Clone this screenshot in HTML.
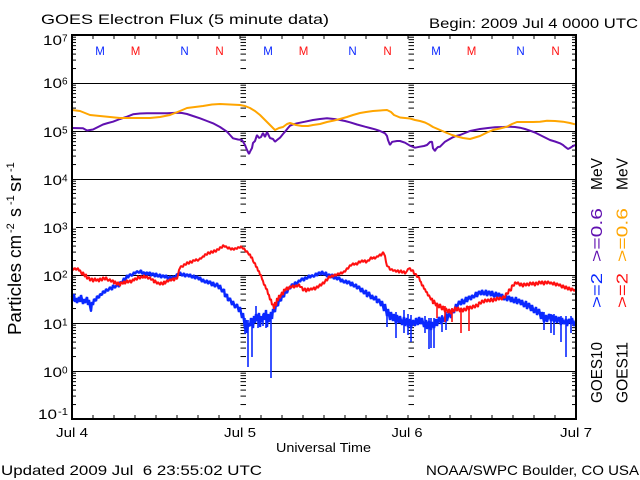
<!DOCTYPE html>
<html><head><meta charset="utf-8"><style>
html,body{margin:0;padding:0;background:#fff;}
svg{display:block;}
text{font-family:"Liberation Sans",sans-serif;fill:#000;}
</style></head><body>
<svg width="640" height="480" viewBox="0 0 640 480" xmlns="http://www.w3.org/2000/svg">
<rect width="640" height="480" fill="#fff"/>
<defs>
<g id="t4" stroke="#000" stroke-width="1">
<line x1="0" x2="4" y1="-14.45" y2="-14.45"/><line x1="0" x2="4" y1="-22.9" y2="-22.9"/><line x1="0" x2="4" y1="-28.9" y2="-28.9"/><line x1="0" x2="4" y1="-33.55" y2="-33.55"/><line x1="0" x2="4" y1="-37.35" y2="-37.35"/><line x1="0" x2="4" y1="-40.56" y2="-40.56"/><line x1="0" x2="4" y1="-43.35" y2="-43.35"/><line x1="0" x2="4" y1="-45.8" y2="-45.8"/>
</g>
<g id="t6" stroke="#000" stroke-width="1">
<line x1="0" x2="5.5" y1="-14.45" y2="-14.45"/><line x1="0" x2="5.5" y1="-22.9" y2="-22.9"/><line x1="0" x2="5.5" y1="-28.9" y2="-28.9"/><line x1="0" x2="5.5" y1="-33.55" y2="-33.55"/><line x1="0" x2="5.5" y1="-37.35" y2="-37.35"/><line x1="0" x2="5.5" y1="-40.56" y2="-40.56"/><line x1="0" x2="5.5" y1="-43.35" y2="-43.35"/><line x1="0" x2="5.5" y1="-45.8" y2="-45.8"/>
</g>
</defs>

<!-- gridlines -->
<g stroke="#000" stroke-width="1">
<line x1="72" x2="576" y1="83.5" y2="83.5"/>
<line x1="72" x2="576" y1="131.5" y2="131.5"/>
<line x1="72" x2="576" y1="179.5" y2="179.5"/>
<line x1="76" x2="576" y1="227.5" y2="227.5" stroke-dasharray="7 5"/>
<line x1="72" x2="576" y1="275.5" y2="275.5"/>
<line x1="72" x2="576" y1="323.5" y2="323.5"/>
<line x1="72" x2="576" y1="371.5" y2="371.5"/>
</g>

<!-- log ticks -->
<g>
<use href="#t4" x="72" y="83"/><use href="#t4" x="72" y="131"/><use href="#t4" x="72" y="179"/><use href="#t4" x="72" y="227"/><use href="#t4" x="72" y="275"/><use href="#t4" x="72" y="323"/><use href="#t4" x="72" y="371"/><use href="#t4" x="72" y="419"/>
<use href="#t4" x="572" y="83"/><use href="#t4" x="572" y="131"/><use href="#t4" x="572" y="179"/><use href="#t4" x="572" y="227"/><use href="#t4" x="572" y="275"/><use href="#t4" x="572" y="323"/><use href="#t4" x="572" y="371"/><use href="#t4" x="572" y="419"/>
<use href="#t6" x="240.5" y="83"/><use href="#t6" x="240.5" y="131"/><use href="#t6" x="240.5" y="179"/><use href="#t6" x="240.5" y="227"/><use href="#t6" x="240.5" y="275"/><use href="#t6" x="240.5" y="323"/><use href="#t6" x="240.5" y="371"/><use href="#t6" x="240.5" y="419"/>
<use href="#t6" x="408.5" y="83"/><use href="#t6" x="408.5" y="131"/><use href="#t6" x="408.5" y="179"/><use href="#t6" x="408.5" y="227"/><use href="#t6" x="408.5" y="275"/><use href="#t6" x="408.5" y="323"/><use href="#t6" x="408.5" y="371"/><use href="#t6" x="408.5" y="419"/>
</g>

<!-- time ticks -->
<line x1="92.5" x2="556" y1="37" y2="37" stroke="#000" stroke-width="4" stroke-dasharray="1 20"/>
<line x1="92.5" x2="556" y1="417" y2="417" stroke="#000" stroke-width="4" stroke-dasharray="1 20"/>

<!-- GOES10 >=0.6 purple -->
<polyline fill="none" stroke="#6010b0" stroke-width="2" stroke-linejoin="bevel" points="72,128 83,128.3 87,130.5 93,129.5 98,127 103,124.5 108,123 113,121.7 120,119 127,116.7 133,114.3 140,113.5 147,113.3 167,113.3 172,113 177,112.7 182,113 187,114 193,116 200,118.3 207,121 213,123.3 220,127 227,131.7 230,135 233,138.3 238,139.5 242,140 245,145 247,150 249,154 250,151.7 252,148 253,143 255,141 257,135 259,138 261,137 263,133 265,137 267,132 270,138 273,139 275,141.7 277,140 280,137.7 283,134 285,131.7 288,128 290,125.7 293,124.5 297,123.3 305,121.7 313,120 320,119 327,118.3 334,119 340,120 345,121 350,122.3 357,124.5 365,126.7 370,128 375,129.3 380,131 385,133.3 387,136 388,140 390,145 392,142 393,141.7 397,141 400,141 405,142.7 410,145.7 415,147.7 420,146.7 424,146 427,145 430,142 432,141.7 433,148.3 435,151 436,149 438,147 440,146.7 445,141.7 448,140 452,137.7 456,136 460,135 465,133 470,131 475,130 480,129 488,128 495,127.3 503,127 510,126.7 515,127 520,127.7 525,129 530,130.7 535,132.5 540,135 545,137.5 550,140 555,141.5 560,143.3 563,145 565,146.7 568,149 570,148 572,146.7 574,145.5 576,145"/>

<!-- GOES11 >=0.6 orange -->
<polyline fill="none" stroke="#ffa500" stroke-width="2" stroke-linejoin="bevel" points="72,110 80,111 90,115 100,116 110,117 120,118 135,118 150,118 160,117 170,115 175,113 180,111 187,108 195,107 203,106 212,104.5 220,104 230,104.5 240,105 245,106 250,108 255,111 260,115 264,119 268,123 272,127 275,130 279,128 283,127 287,124 290,123 296,125 302,126 308,126 313,125 320,124 327,122 334,120.5 340,119 347,117 353,115 360,113 366,112 373,111 380,110.5 387,110 391,112 394,115 400,117.5 405,118 410,118.5 415,120 420,121 425,122.5 429,124.5 433,127 440,130 447,133 452,135 457,136.5 463,138 470,139 475,137.5 480,136 487,132.5 493,130 500,128.5 507,126.7 512,124 517,122 525,122 533,122 540,121.7 547,120.7 555,121 563,121.7 570,123 575,124.3"/>

<!-- GOES10 >=2 blue -->
<polyline fill="none" stroke="#0a28ff" stroke-width="2.4" stroke-linejoin="bevel" points="72,296 73,301 74,294 75,302 76,298 77,303 79,297 80,302 81,295 83,304 84,299 85,303 87,297 88,305 89,300 90,306 91,311 92,302 93,305 94,299 96,301 97,296 99,298 100,294 102,295 103,291 105,293 106,289 108,291 110,287 112,290 113,285 115,288 117,284 119,287 120,282 122,283 124,278 125,281 127,275 128,278 130,274 132,276 134,272 135,274 137,271 139,273 141,270 142,274 144,272 145,275 147,272 148,275 150,272 151,276 153,273 155,277 156,273 158,277 160,274 161,278 163,275 165,278 166,275 168,279 170,276 172,280 173,276 175,278 177,274 179,275 180,272 182,276 184,273 185,277 187,274 189,277 190,274 192,278 194,275 195,279 197,276 199,280 200,277 202,282 203,279 205,283 207,280 208,284 210,281 212,286 213,282 215,287 217,283 219,289 220,285 222,292 224,289 225,297 227,294 228,301 230,298 232,305 233,301 235,308 237,304 239,312 240,307 242,318 243,313 245,329 246,320 247,333 248,324 250,326 251,318 253,328 254,316 255,323 256,314 257,321 259,313 260,327 261,316 262,322 264,313 265,320 266,310 267,327 268,314 269,322 271,312 272,319 273,309 275,312 276,304 278,306 279,299 281,301 282,295 284,297 285,291 287,293 289,287 290,289 292,284 294,286 295,282 297,284 299,280 300,282 302,278 304,281 305,277 307,279 309,275 310,278 312,275 314,277 316,273 317,276 319,272 321,275 322,271 324,275 326,272 327,277 329,274 331,278 332,274 334,279 336,276 337,280 339,277 341,282 342,279 344,283 346,280 347,284 349,281 351,286 352,282 354,287 356,284 357,289 359,286 361,292 362,288 364,294 366,290 367,297 369,292 371,299 372,295 374,300 376,296 377,303 379,299 381,306 382,301 384,311 385,304 387,316 388,309 390,320 391,312 393,321 394,314 396,324 397,315 399,323 400,316 402,325 404,317 405,326 407,318 408,327 410,319 411,328 413,320 415,326 416,318 418,325 419,317 421,324 422,318 424,327 426,320 427,329 429,321 431,330 432,322 434,328 436,319 437,326 439,317 441,324 442,316 444,322 446,314 447,321 449,312 451,318 452,309 454,313 456,304 457,308 459,301 461,305 462,299 464,304 466,297 467,302 469,296 471,300 472,295 474,298 476,292 477,297 479,291 481,295 482,290 484,295 486,290 487,296 489,291 491,296 492,291 494,297 496,292 497,298 499,293 501,299 502,294 504,300 506,295 507,301 509,296 511,302 512,297 514,303 516,297 517,304 519,299 521,305 522,300 524,307 526,301 527,309 529,303 531,311 532,305 534,313 536,307 537,315 539,309 541,319 542,312 544,322 546,315 547,322 549,314 551,321 552,315 554,322 556,316 557,323 559,317 561,325 562,318 564,324 566,319 567,326 569,319 571,324 572,318 574,326 576,320"/>
<g stroke="#0a28ff" stroke-width="1.6">
<line x1="91" x2="91" y1="303" y2="312"/>
<line x1="245" x2="245" y1="318" y2="334"/>
<line x1="248" x2="248" y1="320" y2="367"/>
<line x1="252" x2="252" y1="318" y2="357"/>
<line x1="256" x2="256" y1="306" y2="320"/>
<line x1="258" x2="258" y1="315" y2="328"/>
<line x1="263" x2="263" y1="314" y2="326"/>
<line x1="266" x2="266" y1="312" y2="328"/>
<line x1="271" x2="271" y1="312" y2="378"/>
<line x1="387" x2="387" y1="310" y2="327"/>
<line x1="396" x2="396" y1="312" y2="338"/>
<line x1="404" x2="404" y1="310" y2="333"/>
<line x1="408" x2="408" y1="314" y2="335"/>
<line x1="411" x2="411" y1="315" y2="342"/>
<line x1="425" x2="425" y1="316" y2="333"/>
<line x1="429" x2="429" y1="318" y2="349"/>
<line x1="431" x2="431" y1="318" y2="348"/>
<line x1="434" x2="434" y1="318" y2="348"/>
<line x1="442" x2="442" y1="315" y2="332"/>
<line x1="446" x2="446" y1="312" y2="330"/>
<line x1="544" x2="544" y1="312" y2="330"/>
<line x1="551" x2="551" y1="314" y2="333"/>
<line x1="554" x2="554" y1="314" y2="335"/>
<line x1="561" x2="561" y1="316" y2="342"/>
<line x1="566" x2="566" y1="316" y2="357"/>
<line x1="571" x2="571" y1="316" y2="333"/>
</g>

<!-- GOES11 >=2 red -->
<polyline fill="none" stroke="#ff1010" stroke-width="2" stroke-linejoin="bevel" points="72,267 73,270 75,268 76,270 78,268 79,271 80,270 82,275 83,272 85,277 86,274 87,279 89,277 90,281 92,278 93,282 95,278 96,281 98,279 99,282 100,278 102,281 103,277 105,280 106,277 108,281 110,279 111,282 113,280 114,284 115,281 117,285 118,282 120,286 121,282 123,284 124,281 125,284 127,280 128,283 130,280 131,283 133,279 134,281 135,278 137,280 138,276 140,279 141,276 143,278 144,275 145,278 147,276 148,279 150,277 151,280 153,279 154,283 155,280 157,284 158,282 160,285 161,282 163,285 164,281 165,284 167,280 168,282 170,279 171,281 173,278 174,281 175,278 177,279 178,275 179,270 180,268 181,266 183,267 184,264 186,265 187,262 189,264 190,261 192,263 193,260 195,261 196,259 198,261 200,258 201,259 203,256 204,257 205,254 207,255 208,252 210,254 211,251 213,253 214,250 216,252 217,249 219,250 220,247 222,248 223,245 225,247 226,246 228,249 229,247 231,250 232,248 234,250 235,248 237,249 238,247 240,248 241,246 243,249 244,248 246,252 247,251 249,255 250,254 251,258 252,257 253,261 254,263 255,263 256,267 257,267 258,271 259,271 260,275 261,275 262,279 263,281 264,285 265,285 266,289 267,289 268,294 269,295 270,300 271,299 272,305 273,304 274,309 275,302 276,306 277,298 278,301 279,295 280,298 282,292 283,295 284,289 285,291 287,287 288,290 290,286 291,288 293,285 294,288 296,285 297,287 299,284 300,287 302,287 303,291 305,288 306,292 308,288 309,291 311,288 312,290 314,287 315,290 317,286 318,288 320,284 321,286 323,282 324,284 326,279 327,281 329,276 330,278 332,275 333,277 335,274 336,276 338,273 339,275 341,272 342,274 344,271 345,272 347,268 348,269 350,265 351,266 353,263 354,265 356,263 357,265 359,261 360,263 362,260 363,262 365,260 366,263 368,260 369,261 371,257 372,259 374,257 375,259 377,256 378,257 380,254 381,256 383,252 384,254 385,256 386,262 387,266 389,267 390,270 392,269 393,271 395,270 396,272 398,270 399,273 401,270 402,273 404,271 405,274 407,271 408,269 410,268 411,271 413,270 414,274 416,274 417,277 419,277 420,281 421,282 422,286 423,285 424,289 425,289 426,292 427,292 428,296 429,295 431,300 432,298 433,304 434,300 436,306 437,303 439,308 440,304 442,310 443,306 445,312 446,308 448,313 449,309 451,314 452,309 454,312 455,307 457,311 458,307 460,312 461,308 463,312 464,308 466,311 467,306 469,310 470,306 472,309 473,305 475,308 476,304 478,307 479,302 481,304 482,300 484,303 485,299 487,302 488,299 490,302 491,298 493,302 494,298 496,301 497,297 499,300 500,297 502,300 503,296 505,298 506,293 508,294 509,289 511,291 512,285 514,286 515,282 517,284 518,282 520,286 521,283 523,287 524,283 526,286 527,283 529,286 530,282 532,285 533,282 535,286 536,282 538,285 539,281 541,284 542,281 544,285 545,281 547,284 548,281 550,284 551,282 553,285 554,282 556,286 557,283 559,286 560,284 562,288 563,285 565,289 566,286 568,290 569,287 571,291 572,288 574,291 576,289"/>
<g stroke="#ff1010" stroke-width="1.6">
<line x1="437" x2="437" y1="303" y2="318"/>
<line x1="445" x2="445" y1="306" y2="322"/>
<line x1="452" x2="452" y1="308" y2="322"/>
<line x1="461" x2="461" y1="308" y2="333"/>
<line x1="469" x2="469" y1="306" y2="331"/>
</g>

<!-- frame -->
<rect x="72" y="35" width="504" height="384" fill="none" stroke="#000" stroke-width="2"/>

<!-- M/N markers -->
<g font-size="11.5" text-anchor="middle">
<text x="100" y="55" style="fill:#0a28ff">M</text>
<text x="135.5" y="55" style="fill:#ff1010">M</text>
<text x="184.5" y="55" style="fill:#0a28ff">N</text>
<text x="219.5" y="55" style="fill:#ff1010">N</text>
<text x="268" y="55" style="fill:#0a28ff">M</text>
<text x="303.5" y="55" style="fill:#ff1010">M</text>
<text x="352.5" y="55" style="fill:#0a28ff">N</text>
<text x="387.5" y="55" style="fill:#ff1010">N</text>
<text x="436" y="55" style="fill:#0a28ff">M</text>
<text x="471.5" y="55" style="fill:#ff1010">M</text>
<text x="520.5" y="55" style="fill:#0a28ff">N</text>
<text x="555.5" y="55" style="fill:#ff1010">N</text>
</g>

<!-- titles -->
<text x="41" y="24" font-size="14" textLength="288" lengthAdjust="spacingAndGlyphs">GOES Electron Flux (5 minute data)</text>
<text x="429" y="28" font-size="14" textLength="209" lengthAdjust="spacingAndGlyphs">Begin: 2009 Jul 4 0000 UTC</text>

<!-- y tick labels -->
<g font-size="14">
<text x="62" y="45" text-anchor="end" textLength="19" lengthAdjust="spacingAndGlyphs">10</text><text x="62" y="41.5" font-size="10">7</text>
<text x="62" y="88" text-anchor="end" textLength="19" lengthAdjust="spacingAndGlyphs">10</text><text x="62" y="84.5" font-size="10">6</text>
<text x="62" y="137" text-anchor="end" textLength="19" lengthAdjust="spacingAndGlyphs">10</text><text x="62" y="133.5" font-size="10">5</text>
<text x="62" y="185" text-anchor="end" textLength="19" lengthAdjust="spacingAndGlyphs">10</text><text x="62" y="181.5" font-size="10">4</text>
<text x="62" y="233" text-anchor="end" textLength="19" lengthAdjust="spacingAndGlyphs">10</text><text x="62" y="229.5" font-size="10">3</text>
<text x="62" y="281" text-anchor="end" textLength="19" lengthAdjust="spacingAndGlyphs">10</text><text x="62" y="277.5" font-size="10">2</text>
<text x="62" y="329" text-anchor="end" textLength="19" lengthAdjust="spacingAndGlyphs">10</text><text x="62" y="325.5" font-size="10">1</text>
<text x="62" y="377" text-anchor="end" textLength="19" lengthAdjust="spacingAndGlyphs">10</text><text x="62" y="373.5" font-size="10">0</text>
<text x="57" y="419" text-anchor="end" textLength="19" lengthAdjust="spacingAndGlyphs">10</text><text x="58" y="415" font-size="10" textLength="10" lengthAdjust="spacingAndGlyphs">-1</text>
</g>

<!-- y axis title -->
<g transform="translate(21,335) rotate(-90)">
<text font-size="18"><tspan x="0" y="0" textLength="72" lengthAdjust="spacingAndGlyphs">Particles</tspan><tspan x="77" y="0" textLength="23" lengthAdjust="spacingAndGlyphs">cm</tspan><tspan x="102" y="-7" font-size="11">-2</tspan><tspan x="118" y="0">s</tspan><tspan x="130" y="-7" font-size="11">-1</tspan><tspan x="143" y="0" textLength="17" lengthAdjust="spacingAndGlyphs">sr</tspan><tspan x="163" y="-7" font-size="11">-1</tspan></text>
</g>

<!-- right labels -->
<g transform="translate(602,403) rotate(-90)" font-size="16">
<text x="0" y="0" textLength="61" lengthAdjust="spacingAndGlyphs">GOES10</text>
<text x="95" y="0" textLength="35" lengthAdjust="spacingAndGlyphs" style="fill:#0a28ff">&gt;=2</text>
<text x="141" y="0" textLength="54" lengthAdjust="spacingAndGlyphs" style="fill:#6010b0">&gt;=0.6</text>
<text x="213" y="0" textLength="32" lengthAdjust="spacingAndGlyphs">MeV</text>
</g>
<g transform="translate(627.5,403) rotate(-90)" font-size="16">
<text x="0" y="0" textLength="61" lengthAdjust="spacingAndGlyphs">GOES11</text>
<text x="95" y="0" textLength="35" lengthAdjust="spacingAndGlyphs" style="fill:#ff1010">&gt;=2</text>
<text x="141" y="0" textLength="54" lengthAdjust="spacingAndGlyphs" style="fill:#ffa500">&gt;=0.6</text>
<text x="213" y="0" textLength="32" lengthAdjust="spacingAndGlyphs">MeV</text>
</g>

<!-- x labels -->
<g font-size="13" text-anchor="middle">
<text x="72" y="437" textLength="32" lengthAdjust="spacingAndGlyphs">Jul 4</text>
<text x="240" y="437" textLength="32" lengthAdjust="spacingAndGlyphs">Jul 5</text>
<text x="407" y="437" textLength="31" lengthAdjust="spacingAndGlyphs">Jul 6</text>
<text x="576" y="437" textLength="32" lengthAdjust="spacingAndGlyphs">Jul 7</text>
</g>
<text x="276" y="452" font-size="13" textLength="95" lengthAdjust="spacingAndGlyphs">Universal Time</text>

<!-- footer -->
<text x="1" y="475" font-size="14" textLength="261" lengthAdjust="spacingAndGlyphs" style="white-space:pre" xml:space="preserve">Updated 2009 Jul  6 23:55:02 UTC</text>
<text x="426" y="475" font-size="14" textLength="213" lengthAdjust="spacingAndGlyphs">NOAA/SWPC Boulder, CO USA</text>
</svg>
</body></html>
